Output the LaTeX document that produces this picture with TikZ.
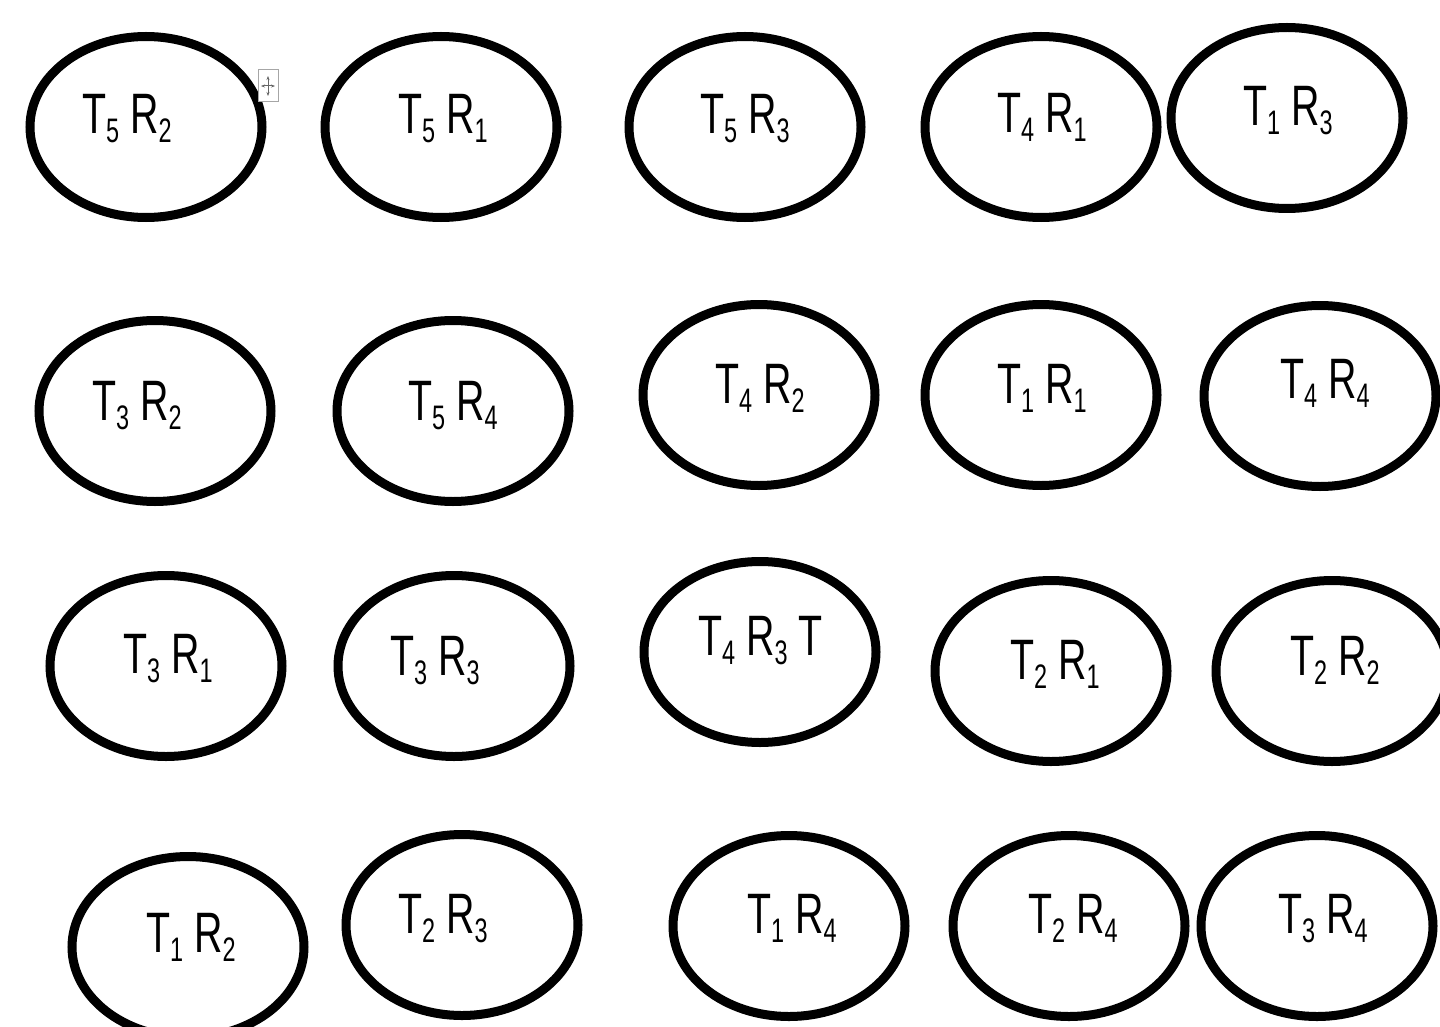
\documentclass[tikz,border=0pt]{standalone}
\usepackage{fontspec}
\newfontfamily\narrowfont[FakeStretch=0.69]{Liberation Sans}
\usetikzlibrary{arrows.meta,shapes.geometric,calc}
\newcommand{\idx}[1]{\raisebox{-9pt}{\fontsize{34}{34}\selectfont #1}}
\tikzset{
  pair/.style={ellipse, draw=black, line width=9pt, minimum width=232pt,
    minimum height=181pt, inner sep=0pt},
  pairlbl/.style={anchor=base west, inner sep=0pt,
    font=\narrowfont\fontsize{57}{57}\selectfont},
  handle/.style={rectangle, draw=black!35, fill=white, line width=1pt,
    minimum width=20pt, minimum height=32pt, inner sep=0pt},
  handlearr/.style={{Stealth[length=4pt]}-{Stealth[length=4pt]}, draw=black!60, line width=1pt},
}

\begin{document}
\begin{tikzpicture}[x=1pt, y=-1pt]
  \useasboundingbox[fill=white] (0,0) rectangle (1440,1027);
  % row 1
  \node[pair] (t5r2) at (146,127) {};
  \node[pair] (t5r1) at (441,127) {};
  \node[pair] (t5r3) at (745,127) {};
  \node[pair] (t4r1) at (1041,127) {};
  \node[pair] (t1r3) at (1287,118) {};
  \node[pairlbl] (t5r2l) at (82,134) {T\idx{5} R\idx{2}};
  \node[pairlbl] (t5r1l) at (398,134) {T\idx{5} R\idx{1}};
  \node[pairlbl] (t5r3l) at (700,134) {T\idx{5} R\idx{3}};
  \node[pairlbl] (t4r1l) at (997,133) {T\idx{4} R\idx{1}};
  \node[pairlbl] (t1r3l) at (1243,126) {T\idx{1} R\idx{3}};
  \node[handle] (mv) at (268,86) {};
  \draw[handlearr] ($(mv.center)+(-7,0)$) -- ($(mv.center)+(7,0)$);
  \draw[handlearr] ($(mv.center)+(0,-10)$) -- ($(mv.center)+(0,10)$);
  % row 2
  \node[pair] (t3r2) at (155,411) {};
  \node[pair] (t5r4) at (453,411) {};
  \node[pair] (t4r2) at (759,395) {};
  \node[pair] (t1r1) at (1041,395) {};
  \node[pair] (t4r4) at (1320,396) {};
  \node[pairlbl] (t3r2l) at (92,420) {T\idx{3} R\idx{2}};
  \node[pairlbl] (t5r4l) at (408,420) {T\idx{5} R\idx{4}};
  \node[pairlbl] (t4r2l) at (715,403) {T\idx{4} R\idx{2}};
  \node[pairlbl] (t1r1l) at (997,403) {T\idx{1} R\idx{1}};
  \node[pairlbl] (t4r4l) at (1280,398) {T\idx{4} R\idx{4}};
  % row 3
  \node[pair] (t3r1) at (166,666) {};
  \node[pair] (t3r3) at (454,666) {};
  \node[pair] (t4r3) at (760,652) {};
  \node[pair] (t2r1) at (1051,671) {};
  \node[pair] (t2r2) at (1332,671) {};
  \node[pairlbl] (t3r1l) at (123,673) {T\idx{3} R\idx{1}};
  \node[pairlbl] (t3r3l) at (390,675) {T\idx{3} R\idx{3}};
  \node[pairlbl] (t4r3l) at (698,655) {T\idx{4} R\idx{3} T};
  \node[pairlbl] (t2r1l) at (1010,679) {T\idx{2} R\idx{1}};
  \node[pairlbl] (t2r2l) at (1290,675) {T\idx{2} R\idx{2}};
  % row 4
  \node[pair] (t1r2) at (188,947) {};
  \node[pair] (t2r3) at (462,925) {};
  \node[pair] (t1r4) at (789,926) {};
  \node[pair] (t2r4) at (1069,926) {};
  \node[pair] (t3r4) at (1317,926) {};
  \node[pairlbl] (t1r2l) at (146,952) {T\idx{1} R\idx{2}};
  \node[pairlbl] (t2r3l) at (398,933) {T\idx{2} R\idx{3}};
  \node[pairlbl] (t1r4l) at (747,933) {T\idx{1} R\idx{4}};
  \node[pairlbl] (t2r4l) at (1028,933) {T\idx{2} R\idx{4}};
  \node[pairlbl] (t3r4l) at (1278,933) {T\idx{3} R\idx{4}};
\end{tikzpicture}
\end{document}
